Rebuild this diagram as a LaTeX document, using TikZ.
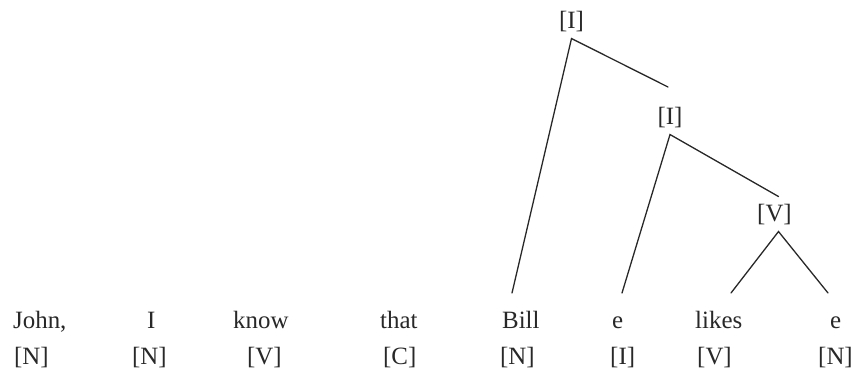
\documentclass[tikz,border=0pt]{standalone}
\usepackage{fontspec}
\setmainfont{Liberation Serif}
\usepackage{tikz}
\definecolor{inkgray}{RGB}{40,40,40}

\begin{document}
\begin{tikzpicture}[x=1bp, y=1bp,
    word/.style={anchor=base west, inner sep=0pt, text=inkgray,
        font=\fontsize{25}{30}\selectfont},
    cat/.style={anchor=base, inner xsep=0pt, inner ysep=7bp, text=inkgray,
        font=\fontsize{25}{30}\selectfont},
    branch/.style={draw=inkgray, line width=1.3bp, line cap=round}
]
\useasboundingbox (0,0) rectangle (856,375);

% words
\node[word] (john) at (13,47) {John,};
\node[word] (i) at (147,47) {I};
\node[word] (know) at (233,47) {know};
\node[word] (that) at (380,47) {that};
\node[word] (bill) at (502,47) {Bill};
\node[word] (e1) at (612,47) {e};
\node[word] (likes) at (695,47) {likes};
\node[word] (e2) at (830,47) {e};

% categories of the words
\node[word] (cjohn) at (14,11) {[N]};
\node[word] (ci) at (132,11) {[N]};
\node[word] (cknow) at (247,11) {[V]};
\node[word] (cthat) at (383,11) {[C]};
\node[word] (cbill) at (500,11) {[N]};
\node[word] (ce1) at (610,11) {[I]};
\node[word] (clikes) at (697,11) {[V]};
\node[word] (ce2) at (818,11) {[N]};

% tree
\node[cat] (itop) at (571.5,347) {[I]};
\node[cat] (imid) at (670,251) {[I]};
\node[cat] (vp) at (774.5,154) {[V]};

\coordinate (itop-end) at (668,288);
\coordinate (bill-top) at (512,82);
\coordinate (e1-top) at (622,82);
\coordinate (likes-top) at (731,82);
\coordinate (e2-top) at (828,82);

\draw[branch] (bill-top) -- (itop.south) -- (itop-end);
\draw[branch] (e1-top) -- (imid.south) -- ([xshift=4bp]vp.north);
\draw[branch] (likes-top) -- ([xshift=4bp]vp.south) -- (e2-top);
\end{tikzpicture}
\end{document}
